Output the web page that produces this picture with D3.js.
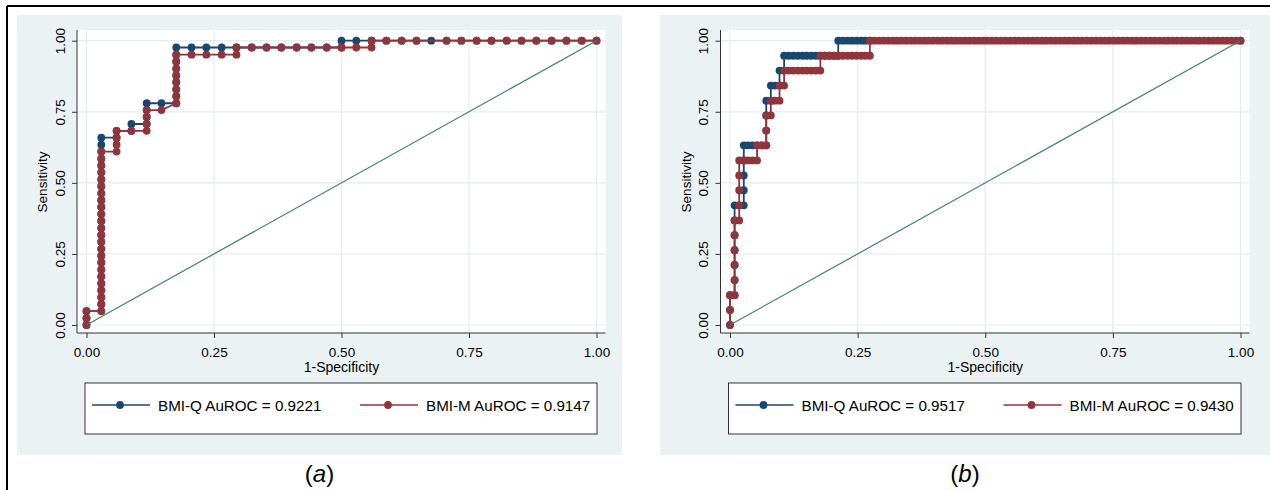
<!DOCTYPE html>
<html>
<head>
<meta charset="utf-8">
<script src="https://cdn.jsdelivr.net/npm/d3@7"></script>
<style>
  body { margin: 0; background: #fff; }
  svg { display: block; font-family: "Liberation Sans", Arial, Helvetica, sans-serif; }
</style>
</head>
<body>
<svg id="fig" width="1270" height="490"></svg>
<script>
// ------------------------------------
// Data (1-specificity, sensitivity)
// ------------------------------------
const tickValues = [0, 0.25, 0.5, 0.75, 1];

const aBmiQ = [
  [0,0],[0,0.024],[0,0.049],
  [0.029,0.049],[0.029,0.073],[0.029,0.098],[0.029,0.122],[0.029,0.146],[0.029,0.171],[0.029,0.195],
  [0.029,0.220],[0.029,0.244],[0.029,0.268],[0.029,0.293],[0.029,0.317],[0.029,0.341],[0.029,0.366],
  [0.029,0.390],[0.029,0.415],[0.029,0.439],[0.029,0.463],[0.029,0.488],[0.029,0.512],[0.029,0.537],
  [0.029,0.561],[0.029,0.585],[0.029,0.610],[0.029,0.634],[0.029,0.659],
  [0.059,0.659],[0.059,0.683],[0.088,0.683],[0.088,0.707],
  [0.118,0.707],[0.118,0.732],[0.118,0.756],[0.118,0.780],[0.147,0.780],
  [0.176,0.780],[0.176,0.805],[0.176,0.829],[0.176,0.854],[0.176,0.878],[0.176,0.902],[0.176,0.927],
  [0.176,0.951],[0.176,0.976],
  [0.206,0.976],[0.235,0.976],[0.265,0.976],[0.294,0.976],[0.324,0.976],[0.353,0.976],[0.382,0.976],
  [0.412,0.976],[0.441,0.976],[0.471,0.976],[0.500,0.976],
  [0.500,1],[0.529,1],[0.559,1],[0.588,1],[0.618,1],[0.647,1],[0.676,1],[0.706,1],[0.735,1],
  [0.765,1],[0.794,1],[0.824,1],[0.853,1],[0.882,1],[0.912,1],[0.941,1],[0.971,1],[1,1]
];

const aBmiM = [
  [0,0],[0,0.024],[0,0.049],
  [0.029,0.049],[0.029,0.073],[0.029,0.098],[0.029,0.122],[0.029,0.146],[0.029,0.171],[0.029,0.195],
  [0.029,0.220],[0.029,0.244],[0.029,0.268],[0.029,0.293],[0.029,0.317],[0.029,0.341],[0.029,0.366],
  [0.029,0.390],[0.029,0.415],[0.029,0.439],[0.029,0.463],[0.029,0.488],[0.029,0.512],[0.029,0.537],
  [0.029,0.561],[0.029,0.585],[0.029,0.610],
  [0.059,0.610],[0.059,0.634],[0.059,0.659],[0.059,0.683],
  [0.088,0.683],
  [0.118,0.683],[0.118,0.707],[0.118,0.732],[0.118,0.756],
  [0.147,0.756],
  [0.176,0.780],[0.176,0.805],[0.176,0.829],[0.176,0.854],[0.176,0.878],[0.176,0.902],[0.176,0.927],
  [0.176,0.951],
  [0.206,0.951],[0.235,0.951],[0.265,0.951],[0.294,0.951],[0.294,0.976],
  [0.324,0.976],[0.353,0.976],[0.382,0.976],[0.412,0.976],[0.441,0.976],[0.471,0.976],[0.500,0.976],
  [0.529,0.976],[0.559,0.976],
  [0.559,1],[0.588,1],[0.618,1],[0.647,1],[0.706,1],[0.735,1],[0.765,1],[0.794,1],[0.824,1],
  [0.853,1],[0.882,1],[0.912,1],[0.941,1],[0.971,1],[1,1]
];

const bBmiQ = [
  [0,0],[0,0.053],[0,0.105],
  [0.009,0.105],[0.009,0.158],[0.009,0.211],[0.009,0.263],[0.009,0.316],[0.009,0.368],[0.009,0.421],
  [0.018,0.421],[0.027,0.421],[0.027,0.474],[0.027,0.526],[0.027,0.579],[0.027,0.632],
  [0.035,0.632],[0.044,0.632],[0.053,0.632],[0.062,0.632],[0.071,0.632],[0.071,0.684],[0.071,0.737],
  [0.071,0.789],[0.080,0.789],[0.080,0.842],[0.088,0.842],[0.097,0.842],[0.097,0.895],[0.106,0.895],
  [0.106,0.947],
  [0.115,0.947],[0.124,0.947],[0.133,0.947],[0.142,0.947],[0.150,0.947],[0.159,0.947],[0.168,0.947],
  [0.177,0.947],[0.186,0.947],[0.195,0.947],[0.204,0.947],[0.212,0.947],
  [0.212,1],[0.221,1],[0.230,1],[0.239,1],[0.248,1],[0.257,1],[0.265,1],[0.274,1],[1,1]
];

const bBmiM = [
  [0,0],[0,0.053],[0,0.105],
  [0.009,0.105],[0.009,0.158],[0.009,0.211],[0.009,0.263],[0.009,0.316],[0.009,0.368],
  [0.018,0.368],[0.018,0.421],[0.018,0.474],[0.018,0.526],[0.018,0.579],
  [0.027,0.579],[0.035,0.579],[0.044,0.579],[0.053,0.579],[0.053,0.632],[0.062,0.632],[0.071,0.632],
  [0.071,0.684],[0.071,0.737],[0.080,0.737],[0.080,0.789],[0.088,0.789],[0.097,0.789],[0.097,0.842],
  [0.106,0.842],[0.106,0.895],
  [0.115,0.895],[0.124,0.895],[0.133,0.895],[0.142,0.895],[0.150,0.895],[0.159,0.895],[0.168,0.895],
  [0.177,0.895],[0.177,0.947],
  [0.186,0.947],[0.195,0.947],[0.204,0.947],[0.212,0.947],[0.221,0.947],[0.230,0.947],[0.239,0.947],
  [0.248,0.947],[0.257,0.947],[0.265,0.947],[0.274,0.947],[0.274,1]
];

// flat run of BMI-M along sensitivity = 1 (panel b)
const bBmiMTop = [
  0.283,0.292,0.301,0.310,0.319,0.327,0.336,0.345,0.354,0.363,0.372,0.381,0.389,0.398,0.407,0.416,
  0.425,0.434,0.442,0.451,0.460,0.469,0.478,0.487,0.496,0.504,0.513,0.522,0.531,0.540,0.549,0.558,
  0.566,0.575,0.584,0.593,0.602,0.611,0.619,0.628,0.637,0.646,0.655,0.664,0.673,0.681,0.690,0.699,
  0.708,0.717,0.726,0.735,0.743,0.752,0.761,0.770,0.779,0.788,0.796,0.805,0.814,0.823,0.832,0.841,
  0.850,0.858,0.867,0.876,0.885,0.894,0.903,0.912,0.920,0.929,0.938,0.947,0.956,0.965,0.973,0.982,
  0.991,1
];

const aLegend = ["BMI-Q AuROC = 0.9221", "BMI-M AuROC = 0.9147"];
const bLegend = ["BMI-Q AuROC = 0.9517", "BMI-M AuROC = 0.9430"];

// ------------------------------------
// Styles
// ------------------------------------
const navy = "#1a476f";
const maroon = "#90353b";
const refColor = "#3e8076";
const bgColor = "#eaf2f3";
const gridColor = "#e4ecee";
const axisColor = "#333";
const dotR = 3.9;

const svg = d3.select("#fig");

// outer frame
svg.append("line").attr("x1", 7).attr("x2", 1270).attr("y1", 6).attr("y2", 6)
  .attr("stroke", "#000").attr("stroke-width", 2);
svg.append("line").attr("x1", 7).attr("x2", 7).attr("y1", 6).attr("y2", 490)
  .attr("stroke", "#000").attr("stroke-width", 2);

const panels = [
  { bgX: 17, bgW: 605, x0: 86.5, x1: 596.5, q: aBmiQ, m: aBmiM, legend: aLegend, caption: "a" },
  { bgX: 660, bgW: 610, x0: 730, x1: 1240.5, q: bBmiQ,
    m: bBmiM.concat(bBmiMTop.map(v => [v, 1])), legend: bLegend, caption: "b" }
];

panels.forEach(drawPanel);

// ------------------------------------
// Draw one panel
// ------------------------------------
function drawPanel(p) {
  const g = svg.append("g");
  const x = d3.scaleLinear().domain([0, 1]).range([p.x0, p.x1]);
  const y = d3.scaleLinear().domain([0, 1]).range([325, 40.7]);

  const plotL = p.x0 - 9.5, plotR = p.x1 + 9;
  const plotT = 30, plotB = 333;

  g.append("rect").attr("x", p.bgX).attr("y", 15)
    .attr("width", p.bgW).attr("height", 440).attr("fill", bgColor);
  g.append("rect").attr("x", plotL).attr("y", plotT)
    .attr("width", plotR - plotL).attr("height", plotB - plotT).attr("fill", "#fff");

  // grid
  g.selectAll(".vgrid").data(tickValues).join("line")
    .attr("x1", d => x(d)).attr("x2", d => x(d))
    .attr("y1", plotT).attr("y2", plotB)
    .attr("stroke", gridColor).attr("stroke-width", 1.2);
  g.selectAll(".hgrid").data(tickValues).join("line")
    .attr("x1", plotL).attr("x2", plotR)
    .attr("y1", d => y(d)).attr("y2", d => y(d))
    .attr("stroke", gridColor).attr("stroke-width", 1.2);

  // axes
  const fmt = d3.format(".2f");
  const yAxis = g.append("g")
    .attr("transform", `translate(${plotL},0)`)
    .call(d3.axisLeft(y).tickValues(tickValues).tickFormat(fmt).tickSize(5).tickSizeOuter(0));
  yAxis.select(".domain").remove();
  yAxis.selectAll("line").attr("stroke", axisColor);
  yAxis.selectAll("text")
    .attr("transform", "rotate(-90)")
    .attr("x", 0).attr("y", -12.5).attr("dy", 0)
    .attr("text-anchor", "middle")
    .attr("font-size", 13.5).attr("fill", "#000")
    .attr("font-family", "Liberation Sans, Arial, sans-serif");

  const xAxis = g.append("g")
    .attr("transform", `translate(0,${plotB})`)
    .call(d3.axisBottom(x).tickValues(tickValues).tickFormat(fmt).tickSize(5).tickSizeOuter(0));
  xAxis.select(".domain").remove();
  xAxis.selectAll("line").attr("stroke", axisColor);
  xAxis.selectAll("text")
    .attr("y", 14).attr("dy", "0.71em")
    .attr("font-size", 13.5).attr("fill", "#000")
    .attr("font-family", "Liberation Sans, Arial, sans-serif");

  g.append("line").attr("x1", plotL).attr("x2", plotL).attr("y1", plotT).attr("y2", plotB)
    .attr("stroke", axisColor).attr("stroke-width", 1);
  g.append("line").attr("x1", plotL).attr("x2", plotR).attr("y1", plotB).attr("y2", plotB)
    .attr("stroke", axisColor).attr("stroke-width", 1);

  // axis titles
  g.append("text")
    .attr("transform", `translate(${plotL - 30},${(plotT + plotB) / 2 + 0.5}) rotate(-90)`)
    .attr("text-anchor", "middle").attr("font-size", 13.5)
    .text("Sensitivity");
  g.append("text")
    .attr("x", (p.x0 + p.x1) / 2).attr("y", 372)
    .attr("text-anchor", "middle").attr("font-size", 14)
    .text("1-Specificity");

  // curves
  const line = d3.line().x(d => x(d[0])).y(d => y(d[1]));
  [[p.q, navy], [p.m, maroon]].forEach(([series, color]) => {
    g.append("path").datum(series)
      .attr("fill", "none").attr("stroke", color).attr("stroke-width", 1.8)
      .attr("d", line);
    g.append("g").selectAll("circle").data(series).join("circle")
      .attr("cx", d => x(d[0])).attr("cy", d => y(d[1]))
      .attr("r", dotR).attr("fill", color);
  });

  // reference line
  g.append("path").datum([[0, 0], [1, 1]])
    .attr("fill", "none").attr("stroke", refColor).attr("stroke-width", 1.2)
    .attr("d", line);

  // legend
  const lx = p.x0 - 1.5;
  const legend = g.append("g").attr("transform", `translate(${lx},383)`);
  legend.append("rect").attr("width", p.x1 - p.x0 + 2).attr("height", 51)
    .attr("fill", "#fff").attr("stroke", axisColor).attr("stroke-width", 1);
  [[navy, 0], [maroon, 268]].forEach(([color, off], i) => {
    legend.append("line").attr("x1", off + 7).attr("x2", off + 65)
      .attr("y1", 22).attr("y2", 22)
      .attr("stroke", color).attr("stroke-width", 1.6);
    legend.append("circle").attr("cx", off + 35).attr("cy", 22).attr("r", dotR).attr("fill", color);
    legend.append("text").attr("x", off + 73).attr("y", 27.5)
      .attr("font-size", 15.2).text(p.legend[i]);
  });

  // caption
  const cap = g.append("text")
    .attr("x", p.bgX + p.bgW / 2).attr("y", 482)
    .attr("text-anchor", "middle").attr("font-size", 24);
  cap.append("tspan").text("(");
  cap.append("tspan").attr("font-style", "italic").text(p.caption);
  cap.append("tspan").text(")");
}
</script>
</body>
</html>
